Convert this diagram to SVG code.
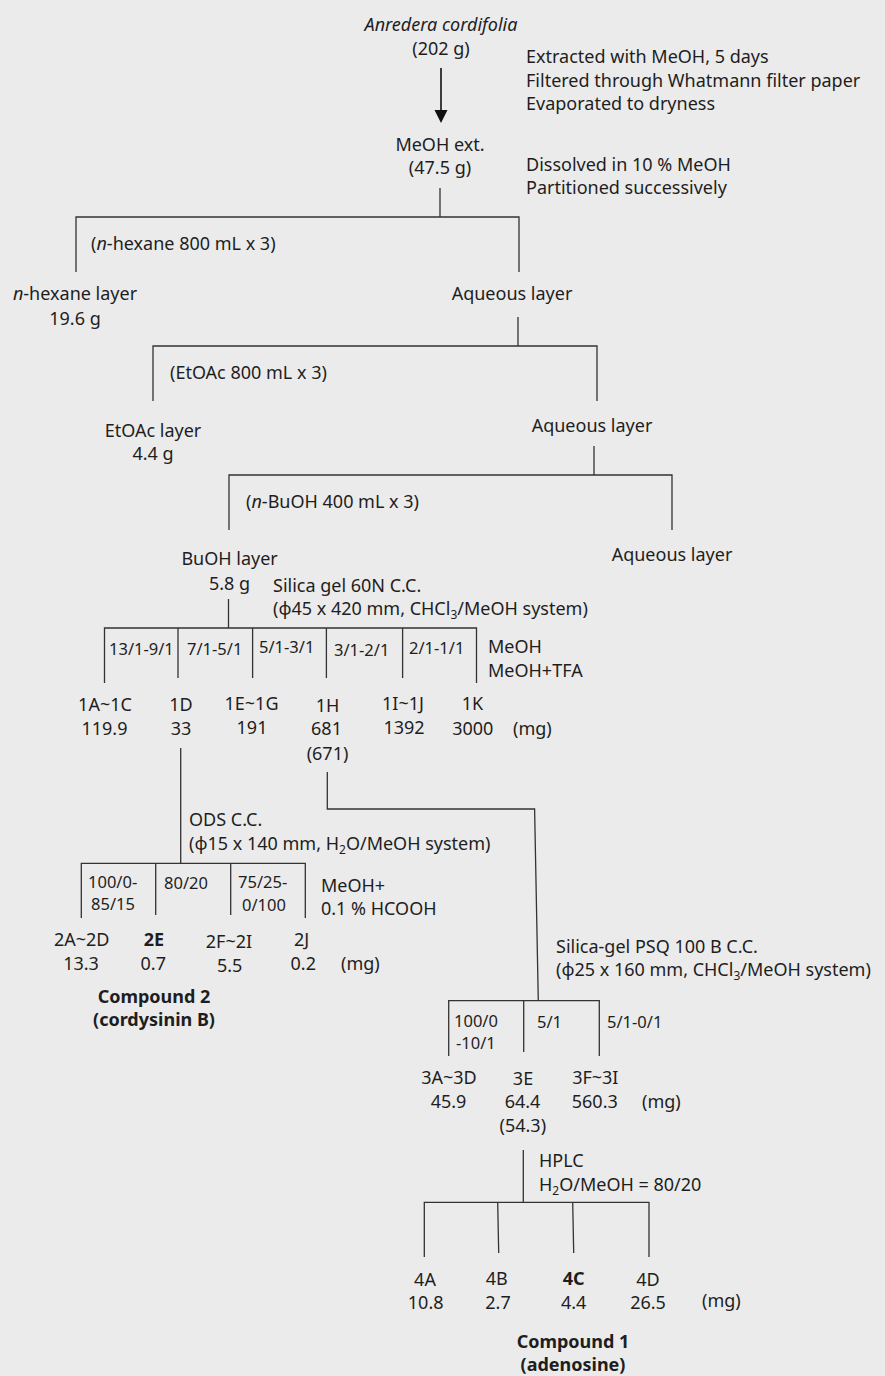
<svg xmlns="http://www.w3.org/2000/svg" width="885" height="1376" viewBox="0 0 885 1376">
<defs>
<style>
text{font-family:"Noto Sans","Open Sans","DejaVu Sans",sans-serif;font-size:18px;fill:#1e1e1e}
.c{text-anchor:middle}
.it{font-style:italic}
.b{font-weight:bold}
.s{font-size:16.5px}
.sub{font-size:12px}
.ln{fill:none;stroke:#333;stroke-width:1.3}
</style>
</defs>
<rect width="885" height="1376" fill="#ebebeb"/>
<g id="connectors">
<line x1="441" y1="68" x2="441" y2="112" stroke="#111" stroke-width="1.6"/>
<path d="M434.5,110 L447.5,110 L441,123 Z" fill="#111"/>
<path class="ln" d="M440,188 V217 M76,272 V217 H519 V272"/>
<path class="ln" d="M518,317 V346 M153,401 V346 H597 V401"/>
<path class="ln" d="M594,446 V475 M229,530 V475 H672 V530"/>
<path class="ln" d="M228.5,599 V628 M104.5,683 V628 H476.5 V683 M178,628 V678 M252.6,628 V678 M326.4,628 V678 M402.6,628 V678"/>
<path class="ln" d="M180.7,748 V863"/>
<path class="ln" d="M327.3,772 V809 H534.6 L538.3,1000.7"/>
<path class="ln" d="M81.3,918 V863.3 H305.3 V918 M155.7,863.3 V915 M230.7,863.3 V915"/>
<path class="ln" d="M448.7,1056 V1000.7 H599.3 V1056 M523.7,1000.7 V1052"/>
<path class="ln" d="M523.3,1150 V1202.3 M424.3,1257 V1202.3 H649 V1257 M497.7,1202.3 L498.7,1253 M572.7,1202.3 L573.7,1253"/>
</g>
<g id="n-anredera">
<text class="c it" x="441" y="31">Anredera cordifolia</text>
<text class="c" x="441" y="55">(202 g)</text>
</g>
<g id="n-step1">
<text x="526" y="63">Extracted with MeOH, 5 days</text>
<text x="526" y="87">Filtered through Whatmann filter paper</text>
<text x="526" y="110">Evaporated to dryness</text>
</g>
<g id="n-meoh-ext">
<text class="c" x="440" y="151">MeOH ext.</text>
<text class="c" x="440" y="174">(47.5 g)</text>
</g>
<g id="n-step2">
<text x="526" y="171">Dissolved in 10 % MeOH</text>
<text x="526" y="194">Partitioned successively</text>
</g>
<g id="l-hexane"><text x="91" y="250">(<tspan class="it">n</tspan>-hexane 800 mL x 3)</text></g>
<g id="n-hexane-layer">
<text class="c" x="75" y="300"><tspan class="it">n</tspan>-hexane layer</text>
<text class="c" x="75" y="325">19.6 g</text>
</g>
<g id="n-aq1"><text class="c" x="512" y="300">Aqueous layer</text></g>
<g id="l-etoac"><text x="170" y="379">(EtOAc 800 mL x 3)</text></g>
<g id="n-etoac-layer">
<text class="c" x="153" y="437">EtOAc layer</text>
<text class="c" x="153" y="460">4.4 g</text>
</g>
<g id="n-aq2"><text class="c" x="592" y="432">Aqueous layer</text></g>
<g id="l-buoh"><text x="246" y="508">(<tspan class="it">n</tspan>-BuOH 400 mL x 3)</text></g>
<g id="n-buoh-layer">
<text class="c" x="229.6" y="565">BuOH layer</text>
<text class="c" x="229.6" y="590">5.8 g</text>
</g>
<g id="n-aq3"><text class="c" x="672" y="561">Aqueous layer</text></g>
<g id="l-silica60">
<text x="273" y="592">Silica gel 60N C.C.</text>
<text x="273" y="615">(ϕ45 x 420 mm, CHCl<tspan class="sub" dy="4">3</tspan><tspan dy="-4">/MeOH system)</tspan></text>
</g>
<g id="l-silica60-eluents">
<text class="s" x="109" y="655">13/1-9/1</text>
<text class="s" x="187" y="655">7/1-5/1</text>
<text class="s" x="259" y="653">5/1-3/1</text>
<text class="s" x="334" y="656">3/1-2/1</text>
<text class="s" x="409" y="654">2/1-1/1</text>
<text x="488" y="653">MeOH</text>
<text x="488" y="677">MeOH+TFA</text>
</g>
<g id="n-1A"><text class="c" x="105" y="711">1A~1C</text><text class="c" x="104.5" y="735">119.9</text></g>
<g id="n-1D"><text class="c" x="181" y="711">1D</text><text class="c" x="181" y="735">33</text></g>
<g id="n-1E"><text class="c" x="251.5" y="710">1E~1G</text><text class="c" x="252" y="734">191</text></g>
<g id="n-1H"><text class="c" x="327.5" y="712">1H</text><text class="c" x="326.5" y="735">681</text><text class="c" x="327.5" y="760">(671)</text></g>
<g id="n-1I"><text class="c" x="403" y="710">1I~1J</text><text class="c" x="404" y="734">1392</text></g>
<g id="n-1K"><text class="c" x="472.5" y="710">1K</text><text class="c" x="472.8" y="735">3000</text></g>
<g id="l-mg1"><text x="513" y="735">(mg)</text></g>
<g id="l-ods">
<text x="189" y="826">ODS C.C.</text>
<text x="189" y="850">(ϕ15 x 140 mm, H<tspan class="sub" dy="4">2</tspan><tspan dy="-4">O/MeOH system)</tspan></text>
</g>
<g id="l-ods-eluents">
<text class="s" x="88" y="888">100/0-</text>
<text class="s" x="91" y="910">85/15</text>
<text class="s" x="164" y="889">80/20</text>
<text class="s" x="238" y="888">75/25-</text>
<text class="s" x="242" y="911">0/100</text>
<text x="321" y="892">MeOH+</text>
<text x="321" y="915">0.1 % HCOOH</text>
</g>
<g id="n-2A"><text class="c" x="81.7" y="946">2A~2D</text><text class="c" x="81" y="970">13.3</text></g>
<g id="n-2E"><text class="c b" x="154" y="946">2E</text><text class="c" x="153.3" y="970">0.7</text></g>
<g id="n-2F"><text class="c" x="229" y="948">2F~2I</text><text class="c" x="229.7" y="972">5.5</text></g>
<g id="n-2J"><text class="c" x="301.7" y="946">2J</text><text class="c" x="303.3" y="970">0.2</text></g>
<g id="l-mg2"><text x="341" y="970">(mg)</text></g>
<g id="n-compound2">
<text class="c b" x="154" y="1003">Compound 2</text>
<text class="c b" x="154" y="1026">(cordysinin B)</text>
</g>
<g id="l-psq">
<text x="556" y="953">Silica-gel PSQ 100 B C.C.</text>
<text x="556" y="976">(ϕ25 x 160 mm, CHCl<tspan class="sub" dy="4">3</tspan><tspan dy="-4">/MeOH system)</tspan></text>
</g>
<g id="l-psq-eluents">
<text class="s" x="454" y="1027">100/0</text>
<text class="s" x="456" y="1049">-10/1</text>
<text class="s" x="537" y="1028">5/1</text>
<text class="s" x="607" y="1028">5/1-0/1</text>
</g>
<g id="n-3A"><text class="c" x="449" y="1084">3A~3D</text><text class="c" x="448.5" y="1108">45.9</text></g>
<g id="n-3E"><text class="c" x="523" y="1085">3E</text><text class="c" x="522.5" y="1108">64.4</text><text class="c" x="522.8" y="1132">(54.3)</text></g>
<g id="n-3F"><text class="c" x="595.3" y="1084">3F~3I</text><text class="c" x="594.8" y="1108">560.3</text></g>
<g id="l-mg3"><text x="642" y="1108">(mg)</text></g>
<g id="l-hplc">
<text x="539" y="1167">HPLC</text>
<text x="539" y="1191">H<tspan class="sub" dy="4">2</tspan><tspan dy="-4">O/MeOH = 80/20</tspan></text>
</g>
<g id="n-4A"><text class="c" x="425" y="1286">4A</text><text class="c" x="425.7" y="1309">10.8</text></g>
<g id="n-4B"><text class="c" x="496.7" y="1285">4B</text><text class="c" x="498" y="1309">2.7</text></g>
<g id="n-4C"><text class="c b" x="573.7" y="1285">4C</text><text class="c" x="573.7" y="1309">4.4</text></g>
<g id="n-4D"><text class="c" x="648" y="1286">4D</text><text class="c" x="648" y="1309">26.5</text></g>
<g id="l-mg4"><text x="702" y="1307">(mg)</text></g>
<g id="n-compound1">
<text class="c b" x="573" y="1348">Compound 1</text>
<text class="c b" x="573" y="1371">(adenosine)</text>
</g>
</svg>
